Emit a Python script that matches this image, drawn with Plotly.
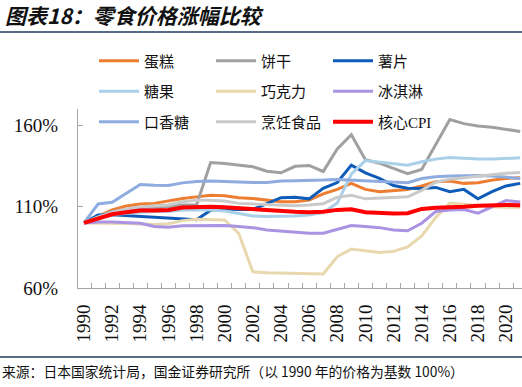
import plotly.graph_objects as go

years = list(range(1990, 2022))

cake = [100, 103.9, 108, 110.4, 111.6, 112, 113.5, 115, 116, 117,
        116.7, 115.5, 115, 114, 113, 113, 114, 117.8, 120.6, 124.3,
        120.6, 119.2, 119.8, 120.6, 122.7, 125.3, 125.7, 124.3, 124.7, 126.3,
        127.3, 127.8]
biscuit = [100, 104, 107, 108, 109, 109, 110, 111, 111, 137.1,
           136.5, 135.5, 134.5, 131.8, 130.8, 134.8, 135.3, 131.6, 145.5, 154.2,
           138.8, 136.7, 133.7, 130.3, 132.8, 148.5, 163.5, 161, 159.5, 158.8,
           157.3, 156.2]
chips = [100, 104.9, 105, 104.5, 104, 103.5, 103.3, 102.7, 102, 107.8,
         108.5, 108.3, 108.3, 111.8, 115.5, 115.8, 114.8, 121.3, 124.8, 135.5,
         130.8, 127.4, 123, 121.3, 121.2, 121.8, 119.2, 120.6, 114.8, 119.2,
         122.7, 124.3]
candy = [100, 103, 105, 106, 106.5, 107, 107, 108, 108, 108,
         107.3, 106, 104.3, 103.9, 103.9, 104.3, 104.9, 106.3, 112.3, 130,
         138.3, 137.3, 136.2, 135.5, 137.6, 139.2, 140.2, 139.6, 139.2, 139.2,
         139.6, 140]
chocolate = [100, 100, 99.8, 99.6, 99.4, 99, 99.5, 101.4, 102.2, 102.2,
             101.8, 93.5, 69.9, 69.4, 69.1, 69.1, 68.8, 68.6, 79.2, 84,
             82.9, 81.8, 82.5, 85.3, 92, 103.3, 112.2, 111.4, 110.9, 110,
             109.6, 109.6]
icecream = [100, 100.6, 100.6, 100.4, 99.8, 97.8, 97.3, 98.2, 98.4, 98.4,
            98.4, 97.8, 97.1, 95.7, 95.1, 94.5, 93.7, 93.7, 96.1, 98.4,
            97.8, 97.1, 95.7, 95.2, 99.8, 107, 108, 108.2, 106, 110,
            113.7, 112.8]
gum = [100, 111.6, 112.7, 117.9, 123.6, 123.2, 123, 124.6, 125.5, 125.7,
       125.3, 125.3, 124.9, 124.9, 125.7, 125.9, 125.9, 126.3, 126.7, 126.3,
       125.7, 125.3, 124.9, 124.7, 127.3, 128.4, 128.8, 129, 129.2, 128.8,
       128, 127.3]
cooking = [100, 103.7, 106.5, 108.6, 110, 110.4, 111, 113, 114, 114,
           113.5, 112, 111.6, 111, 110.8, 110.6, 111, 111.8, 115.8, 117,
           114.8, 115.3, 115.6, 116, 120, 125, 126.9, 127.8, 128.4, 129.7,
           130.5, 131]
cpi = [100, 102.4, 105.3, 106.5, 107.6, 107.6, 108, 109.4, 110, 110,
       109.6, 109, 108.3, 107.8, 107.2, 106.8, 106.6, 106.8, 108, 108.4,
       106.6, 106, 105.8, 106, 108.6, 109.3, 109.3, 109.9, 110.5, 110.9,
       111, 110.8]

series = [
    ("蛋糕", cake, "#ED7D31", 3, "legend"),
    ("饼干", biscuit, "#A0A0A0", 3, "legend"),
    ("薯片", chips, "#0F5CB8", 3, "legend"),
    ("糖果", candy, "#A9D0E8", 3, "legend2"),
    ("巧克力", chocolate, "#E8D8AE", 3, "legend2"),
    ("冰淇淋", icecream, "#A993E2", 3, "legend2"),
    ("口香糖", gum, "#8FACE0", 3, "legend3"),
    ("烹饪食品", cooking, "#CACACA", 3, "legend3"),
    ("核心CPI", cpi, "#FF0000", 4, "legend3"),
]

tick_years = list(range(1990, 2021, 2))
tick_text = [str(y) for y in tick_years]
y_ticks = [60, 110, 160]
y_text = ["60%", "110%", "160%"]

W, H = 522, 387
L, R, T, B = 78, 0, 109, 99
PW, PH = W - L - R, H - T - B


def px_x(px):
    return (px - L) / PW


def px_y(py):
    return (H - B - py) / PH


fig = go.Figure()
for name, vals, color, width, leg in series:
    fig.add_trace(go.Scatter(x=years, y=vals, name=name, mode="lines",
                             line=dict(color=color, width=width),
                             legend=leg, hoverinfo="skip"))

serif = "Liberation Serif, Noto Sans CJK SC"
leg_common = dict(orientation="h", xanchor="left", yanchor="middle",
                  entrywidth=62, entrywidthmode="pixels",
                  bgcolor="rgba(0,0,0,0)", itemwidth=40,
                  font=dict(family=serif, size=15, color="#111111"))

fig.update_layout(
    width=W, height=H,
    margin=dict(l=L, r=R, t=T, b=B, pad=0),
    plot_bgcolor="white", paper_bgcolor="white",
    legend=dict(x=px_x(94), y=px_y(61), **leg_common),
    legend2=dict(x=px_x(94), y=px_y(91.5), **leg_common),
    legend3=dict(x=px_x(94), y=px_y(122), **leg_common),
    xaxis=dict(
        range=[1989.574, 2021.13], showgrid=False, zeroline=False,
        tickmode="array", tickvals=tick_years, ticktext=tick_text,
        tickangle=-90, ticks="", ticklabelstandoff=8,
        tickfont=dict(family="Liberation Serif", size=19, color="#111111"),
        showline=True, linecolor="#A6A6A6", linewidth=1,
        minor=dict(tickmode="array",
                   tickvals=[y + 0.5 for y in range(1990, 2021)],
                   ticks="inside", ticklen=5, tickcolor="#A6A6A6",
                   tickwidth=1, showgrid=False),
    ),
    yaxis=dict(
        range=[60, 170], showgrid=False, zeroline=False,
        tickmode="array", tickvals=y_ticks, ticktext=y_text,
        ticks="inside", ticklen=5, tickcolor="#A6A6A6",
        ticklabelstandoff=15,
        tickfont=dict(family="Liberation Serif", size=19, color="#111111"),
        showline=True, linecolor="#A6A6A6", linewidth=1,
    ),
    annotations=[
        dict(text="图表18：零食价格涨幅比较", xref="paper", yref="paper",
             x=px_x(3), y=px_y(15), xanchor="left", yanchor="middle",
             showarrow=False,
             font=dict(family="Noto Sans CJK SC", size=21, color="#111111",
                       weight="bold", style="italic")),
        dict(text="来源：日本国家统计局，国金证券研究所（以 1990 年的价格为基数 100%）",
             xref="paper", yref="paper",
             x=px_x(0), y=px_y(371), xanchor="left", yanchor="middle",
             showarrow=False,
             font=dict(family="Noto Sans CJK SC", size=13.8, color="#111111")),
    ],
    shapes=[
        dict(type="line", xref="paper", yref="paper", x0=px_x(0), x1=1,
             y0=px_y(32), y1=px_y(32), line=dict(color="#1F3B5C", width=1.5)),
        dict(type="line", xref="paper", yref="paper", x0=px_x(0), x1=1,
             y0=px_y(357), y1=px_y(357), line=dict(color="#1F3B5C", width=1.5)),
    ],
)

fig.write_html("out.html",
               config={"displayModeBar": False},
               post_script="document.body.style.margin='0px';")
